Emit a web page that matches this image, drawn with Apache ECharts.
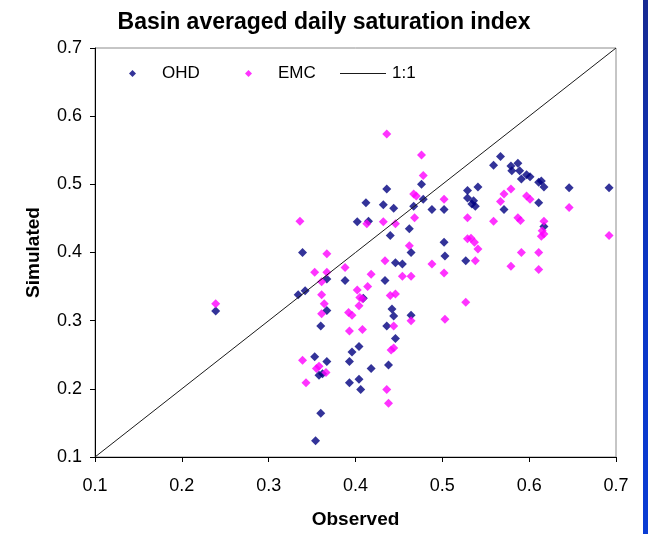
<!DOCTYPE html>
<html>
<head>
<meta charset="utf-8">
<script src="https://cdn.jsdelivr.net/npm/echarts@6/dist/echarts.min.js"></script>
<style>
html,body{margin:0;padding:0;background:#fff;}
#chart{width:648px;height:534px;}
</style>
</head>
<body>
<div id="chart"></div>
<script>
// Observed / Simulated pairs
const ohdObserved = [0.239,0.334,0.342,0.339,0.353,0.360,0.367,0.367,0.367,0.358,0.362,0.360,0.354,0.388,0.393,0.396,0.404,0.393,0.404,0.406,0.402,0.415,0.412,0.409,0.418,0.434,0.432,0.436,0.440,0.444,0.438,0.436,0.442,0.444,0.446,0.446,0.454,0.462,0.464,0.467,0.478,0.476,0.464,0.488,0.502,0.502,0.503,0.527,0.529,0.541,0.529,0.536,0.534,0.538,0.559,0.567,0.571,0.579,0.580,0.587,0.589,0.591,0.597,0.601,0.611,0.614,0.617,0.611,0.617,0.646,0.692];
const ohdSimulated = [0.314,0.338,0.344,0.400,0.247,0.292,0.361,0.315,0.240,0.220,0.222,0.164,0.124,0.359,0.240,0.254,0.262,0.209,0.214,0.199,0.445,0.446,0.473,0.333,0.230,0.359,0.470,0.493,0.425,0.465,0.235,0.292,0.317,0.307,0.274,0.385,0.383,0.435,0.400,0.468,0.478,0.500,0.308,0.463,0.463,0.415,0.395,0.388,0.491,0.496,0.480,0.476,0.471,0.468,0.528,0.541,0.463,0.527,0.520,0.531,0.520,0.508,0.514,0.511,0.503,0.505,0.496,0.473,0.438,0.495,0.495];
const emcObserved = [0.239,0.336,0.339,0.343,0.353,0.367,0.367,0.361,0.361,0.364,0.361,0.355,0.358,0.366,0.388,0.392,0.396,0.393,0.402,0.414,0.405,0.408,0.404,0.408,0.413,0.418,0.432,0.434,0.436,0.440,0.446,0.444,0.444,0.441,0.436,0.438,0.446,0.454,0.464,0.462,0.464,0.467,0.470,0.468,0.476,0.478,0.488,0.502,0.502,0.503,0.527,0.529,0.529,0.533,0.537,0.541,0.538,0.559,0.567,0.571,0.579,0.579,0.587,0.590,0.591,0.597,0.601,0.611,0.611,0.617,0.615,0.617,0.614,0.646,0.692];
const emcSimulated = [0.325,0.446,0.242,0.209,0.371,0.371,0.398,0.357,0.338,0.325,0.310,0.230,0.233,0.224,0.378,0.312,0.308,0.285,0.345,0.350,0.334,0.332,0.322,0.287,0.442,0.368,0.445,0.388,0.574,0.337,0.339,0.292,0.260,0.257,0.199,0.179,0.442,0.365,0.365,0.410,0.300,0.486,0.483,0.451,0.543,0.513,0.383,0.478,0.370,0.302,0.327,0.451,0.420,0.421,0.415,0.405,0.388,0.446,0.475,0.486,0.493,0.380,0.451,0.447,0.400,0.483,0.478,0.400,0.375,0.446,0.432,0.427,0.424,0.466,0.425];
const oneToOne = [0.1, 0.7];
const tickValues = ['0.1','0.2','0.3','0.4','0.5','0.6','0.7'];
const seriesNames = ['OHD','EMC','1:1'];
const titleText = 'Basin averaged daily saturation index';
const xTitle = 'Observed';
const yTitle = 'Simulated';

const pairs = (a, b) => a.map((v, i) => [v, b[i]]);
const font = '"Liberation Sans", Arial, sans-serif';
const chart = echarts.init(document.getElementById('chart'), null, {renderer: 'canvas'});

const axisCommon = {
  type: 'value', min: 0.1, max: 0.7, interval: 0.1,
  axisLine: {show: true, onZero: false, lineStyle: {color: '#000', width: 1}},
  axisTick: {show: true, inside: false, length: 5, lineStyle: {color: '#000'}},
  splitLine: {show: false},
  nameTextStyle: {fontFamily: font, fontWeight: 'bold', fontSize: 19, color: '#000'},
  axisLabel: {fontFamily: font, fontSize: 18, color: '#000',
    formatter: v => tickValues[Math.round((v - 0.1) * 10)] }
};

chart.setOption({
  animation: false,
  backgroundColor: '#fff',
  title: {text: titleText, left: 'center', top: 6,
    textStyle: {fontFamily: font, fontWeight: 'bold', fontSize: 23, color: '#000'}},
  grid: {left: 95, right: 32, top: 48, bottom: 74, show: true, borderColor: '#8c8c8c', borderWidth: 1, backgroundColor: '#fff'},
  xAxis: Object.assign({}, axisCommon, {name: xTitle, nameLocation: 'middle', nameGap: 53,
    axisLabel: Object.assign({}, axisCommon.axisLabel, {margin: 20})}),
  yAxis: Object.assign({}, axisCommon, {name: yTitle, nameLocation: 'middle', nameGap: 52,
    axisLabel: Object.assign({}, axisCommon.axisLabel, {margin: 13})}),
  legend: [
    {data: [seriesNames[0]], left: 124, top: 60, icon: 'diamond', itemWidth: 7, itemHeight: 7,
     textStyle: {fontFamily: font, fontSize: 17, color: '#000', padding: [0,0,0,21]}},
    {data: [seriesNames[1]], left: 240, top: 60, icon: 'diamond', itemWidth: 7, itemHeight: 7,
     textStyle: {fontFamily: font, fontSize: 17, color: '#000', padding: [0,0,0,21]}},
    {data: [{name: seriesNames[2], icon: 'path://M0,0H46V1H0Z'}], left: 335, top: 60, itemWidth: 46, itemHeight: 1,
     textStyle: {fontFamily: font, fontSize: 17, color: '#000', padding: [0,0,0,1]}}
  ],
  series: [
    {name: seriesNames[0], type: 'scatter', symbol: 'diamond', symbolSize: 9,
     itemStyle: {color: '#000080'}, data: pairs(ohdObserved, ohdSimulated), z: 3},
    {name: seriesNames[1], type: 'scatter', symbol: 'diamond', symbolSize: 9,
     itemStyle: {color: '#ff00ff'}, data: pairs(emcObserved, emcSimulated), z: 3},
    {name: seriesNames[2], type: 'line', symbol: 'none', showSymbol: false,
     lineStyle: {color: '#1a1a1a', width: 1}, itemStyle: {color: '#1a1a1a'},
     data: pairs(oneToOne, oneToOne), z: 4}
  ],
  graphic: [{type: 'rect', left: 643, top: 0, shape: {width: 5, height: 534}, silent: true,
    style: {fill: new echarts.graphic.LinearGradient(0, 0, 0, 1, [
      {offset: 0, color: '#172a92'}, {offset: 0.5, color: '#0b36c4'}, {offset: 1, color: '#0a3cd4'}])}}]
});
</script>
</body>
</html>
